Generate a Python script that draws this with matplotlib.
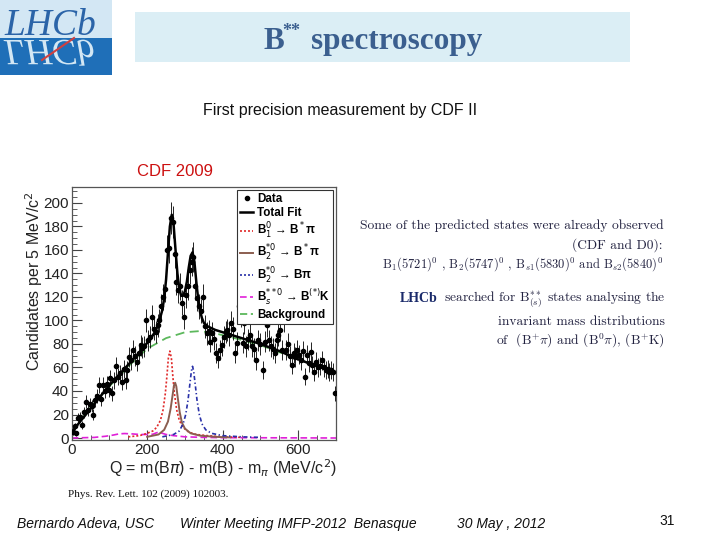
"""
B** spectroscopy slide - CDF 2009 Q-value spectrum
"""

import numpy as np
import matplotlib
matplotlib.use("Agg")
import matplotlib.pyplot as plt
from matplotlib.patches import Rectangle, PathPatch
from matplotlib.textpath import TextPath
from matplotlib.font_manager import FontProperties
from matplotlib.transforms import Affine2D

# --- data ---
BIN_WIDTH = 5
COUNTS = [
    5, 10, 4, 17, 18, 11, 22, 31, 24, 29,
    27, 20, 32, 36, 45, 33, 45, 40, 46, 41,
    51, 38, 49, 61, 52, 55, 48, 59, 49, 58,
    69, 66, 75, 70, 65, 72, 79, 77, 78, 100,
    83, 86, 103, 93, 90, 96, 100, 112, 120, 127,
    160, 162, 187, 184, 157, 133, 126, 129, 115, 103,
    122, 129, 143, 150, 154, 129, 119, 112, 108, 120,
    95, 89, 91, 82, 89, 84, 72, 68, 75, 79,
    86, 90, 92, 88, 98, 93, 72, 81, 112, 105,
    81, 98, 78, 84, 88, 78, 76, 66, 83, 80,
    113, 58, 82, 96, 83, 78, 76, 72, 83, 88,
    92, 75, 100, 75, 80, 70, 62, 72, 69, 75,
    71, 66, 74, 52, 71, 64, 73, 62, 56, 65,
    60, 61, 66, 60, 58, 59, 56, 58, 56, 38,
]

FIT_Q = [0, 20, 40, 60, 80, 100, 120, 140, 160, 180, 200, 210, 220, 230, 240,
         245, 250, 255, 260, 265, 270, 275, 280, 285, 290, 295, 300, 305, 310,
         315, 320, 325, 330, 335, 340, 345, 350, 360, 380, 400, 450, 500, 550,
         600, 650, 700]
FIT_Y = [5, 13, 21, 29, 37, 45, 52, 59, 66, 73, 81, 85, 90, 97, 109,
         119, 135, 158, 180, 190, 181, 160, 140, 127, 121, 121, 125, 133, 145,
         155, 158, 150, 133, 118, 108, 102, 98, 95, 92, 90, 85, 80, 74,
         67, 61, 56]

BKG_Q = [0, 50, 100, 150, 200, 250, 300, 340, 380, 420, 500, 600, 700]
BKG_Y = [5, 26, 44, 61, 76, 85, 90, 91, 89, 86, 79, 67, 55]

B1_Q = [150, 180, 200, 215, 225, 235, 242, 248, 252, 256, 260, 264, 268, 272,
        278, 285, 295, 310, 330, 360, 400, 450]
B1_Y = [1, 2, 4, 6, 9, 15, 24, 38, 52, 68, 74, 68, 52, 38,
        24, 15, 9, 5, 3, 2, 1, 0.5]

B2S_Q = [200, 230, 245, 255, 262, 267, 271, 274, 277, 281, 286, 292, 300, 315,
         340, 380, 420]
B2S_Y = [1, 3, 7, 14, 25, 36, 45, 47, 44, 34, 22, 13, 8, 4,
         2, 1, 0.5]

B2_Q = [240, 270, 285, 295, 302, 308, 313, 317, 320, 323, 327, 332, 338, 345,
        355, 370, 400, 450, 500]
B2_Y = [1, 3, 6, 12, 20, 32, 46, 57, 61, 57, 46, 32, 20, 12,
        7, 4, 2, 1, 0.5]

BS_Q = [0, 60, 90, 110, 125, 140, 160, 180, 200, 215, 225, 232, 240, 250,
        270, 300, 350, 400, 700]
BS_Y = [0, 0.5, 1.5, 2.5, 3.5, 3.8, 3.5, 3, 3, 3.2, 4.5, 5, 4, 3,
        2, 1, 0.5, 0.3, 0]

LEGEND_LABELS = ["Data", "Total Fit", "B$_1^0$ → B$^*$π", "B$_2^{*0}$ → B$^*$π",
                 "B$_2^{*0}$ → Bπ", "B$_s^{**0}$ → B$^{(*)}$K", "Background"]

SANS = "Liberation Sans"
SERIF = "Liberation Serif"
TEXT_DARK = "#222240"


def draw_slide(bg):
    # LHCb logo
    bg.add_patch(Rectangle((0, 0), 112, 38, facecolor="#d3e7f4", edgecolor="none"))
    bg.add_patch(Rectangle((0, 38), 112, 37, facecolor="#1f6fb8", edgecolor="none"))
    bg.text(4, 35, "LHCb", family=SERIF, style="italic", fontsize=27,
            color="#2b64a8", va="baseline", ha="left")
    tp = TextPath((0, 0), "LHCb", size=37,
                  prop=FontProperties(family=SERIF, style="italic"))
    # axes y is inverted, so the path comes out mirrored
    tp = tp.transformed(Affine2D().translate(4, 40))
    bg.add_patch(PathPatch(tp, facecolor="#d3e7f4", edgecolor="none"))
    bg.plot([42, 74], [60, 38], color="#d04040", lw=1.5)

    # title box
    bg.add_patch(Rectangle((135, 12), 495, 50, facecolor="#dbeef5", edgecolor="none"))
    tkw = dict(family=SERIF, weight="bold", color="#3b5f8f", ha="left",
               va="baseline")
    bg.text(263, 49, "B", fontsize=22.5, **tkw)
    bg.text(282, 36, "**", fontsize=13, **tkw)
    bg.text(311, 49, "spectroscopy", fontsize=22.5, **tkw)

    bg.text(340, 111, "First precision measurement by CDF II", family=SANS,
            fontsize=11.5, color="#111111", ha="center", va="center")
    bg.text(137, 172, "CDF 2009", family=SANS, fontsize=12, color="#cc1010",
            ha="left", va="center")

    # right-hand notes
    kw = dict(family="cmr10", fontsize=9.7, color=TEXT_DARK, va="center",
              math_fontfamily="cm")
    bg.text(360, 226, "Some of the predicted states were already observed",
            ha="left", **kw)
    bg.text(663, 245, "(CDF and D0):", ha="right", **kw)
    bg.text(663, 264, r"B$_1$(5721)$^0$ , B$_2$(5747)$^0$ , B$_{s1}$(5830)$^0$"
            r" and B$_{s2}$(5840)$^0$", ha="right",
            **{**kw, "fontsize": 9.0})
    bg.text(438, 299, "LHCb", family=SERIF, weight="bold", fontsize=10,
            color="#1a2a6a", ha="right", va="center")
    bg.text(665, 299, r"searched for B$^{**}_{(s)}$ states analysing the",
            ha="right", **kw)
    bg.text(665, 322, "invariant mass distributions", ha="right", **kw)
    bg.text(665, 341, r"of  (B$^{+}\pi$) and (B$^{0}\pi$), (B$^{+}$K)",
            ha="right", **kw)

    bg.text(68, 494, "Phys. Rev. Lett. 102 (2009) 102003.", family=SERIF,
            fontsize=8, color="#111111", ha="left", va="center")

    # footer
    fkw = dict(family=SANS, style="italic", fontsize=10, color="#111111",
               va="center", ha="left")
    bg.text(17, 524, "Bernardo Adeva, USC", **fkw)
    bg.text(180, 524, "Winter Meeting IMFP-2012  Benasque", **fkw)
    bg.text(457, 524, "30 May , 2012", **fkw)
    bg.text(667, 521, "31", family=SANS, fontsize=10, color="#111111",
            ha="center", va="center")


def draw_spectrum(ax):
    counts = np.array(COUNTS, dtype=float)
    q = np.arange(len(counts)) * BIN_WIDTH + BIN_WIDTH / 2
    err = np.sqrt(counts)

    ax.plot(BKG_Q, BKG_Y, color="#5cb85c", lw=1.3, ls=(0, (5, 3)), zorder=2)
    ax.plot(BS_Q, BS_Y, color="#e020d8", lw=1.2, ls=(0, (4, 2)), zorder=2)
    ax.plot(B1_Q, B1_Y, color="#e02828", lw=1.2, ls=(0, (1.2, 1.2)), zorder=2)
    ax.plot(B2S_Q, B2S_Y, color="#8b5e50", lw=1.4, ls="-", zorder=2)
    ax.plot(B2_Q, B2_Y, color="#2830a8", lw=1.2, ls=(0, (2.5, 1.5, 0.8, 1.5)), zorder=2)
    ax.errorbar(q, counts, yerr=err, fmt="o", ms=3.0, color="black",
                elinewidth=0.6, capsize=0, zorder=3)
    ax.plot(FIT_Q, FIT_Y, color="black", lw=1.8, zorder=4)

    ax.set_xlim(0, 700)
    ax.set_ylim(-1.7, 213.6)
    ax.set_xticks([0, 200, 400, 600])
    ax.set_xticks(np.arange(0, 701, 50), minor=True)
    ax.set_yticks(np.arange(0, 201, 20))
    ax.set_yticks(np.arange(0, 211, 5), minor=True)
    ax.tick_params(which="both", direction="in", labelsize=11,
                   labelcolor="#222222", color="#444444")
    ax.tick_params(which="major", length=7, width=0.8)
    ax.tick_params(which="minor", length=3.5, width=0.6)
    ax.tick_params(axis="x", pad=2)
    ax.tick_params(axis="y", pad=2)
    for lab in ax.get_xticklabels() + ax.get_yticklabels():
        lab.set_family(SANS)
    for sp in ax.spines.values():
        sp.set_color("#555555")
        sp.set_linewidth(0.9)

    # legend proxies
    h = [
        plt.Line2D([], [], marker="o", ms=3.0, color="black", ls="none"),
        plt.Line2D([], [], color="black", lw=1.8),
        plt.Line2D([], [], color="#e02828", lw=1.2, ls=(0, (1.2, 1.2))),
        plt.Line2D([], [], color="#8b5e50", lw=1.4),
        plt.Line2D([], [], color="#2830a8", lw=1.2, ls=(0, (1.2, 1.2))),
        plt.Line2D([], [], color="#e020d8", lw=1.2, ls=(0, (4, 2))),
        plt.Line2D([], [], color="#5cb85c", lw=1.3, ls=(0, (4, 2))),
    ]
    leg = ax.legend(h, LEGEND_LABELS, loc="upper right", frameon=True,
                    fancybox=False, edgecolor="#333333", framealpha=1,
                    prop=FontProperties(family=SANS, weight="bold", size=8.4),
                    handlelength=1.1, handletextpad=0.35, labelspacing=0.18,
                    borderpad=0.25, borderaxespad=0.25)
    leg.get_frame().set_linewidth(0.8)


def main():
    fig = plt.figure(figsize=(7.2, 5.4), dpi=100)
    bg = fig.add_axes([0, 0, 1, 1])
    bg.set_xlim(0, 720)
    bg.set_ylim(540, 0)
    bg.axis("off")
    draw_slide(bg)

    ax = fig.add_axes([71.7 / 720, 100 / 540, 264.3 / 720, 253 / 540])
    draw_spectrum(ax)

    fig.text(337 / 720, (540 - 468) / 540,
             r"Q = m(B$\pi$) - m(B) - m$_{\pi}$ (MeV/c$^2$)",
             family=SANS, fontsize=11.5, color="#222222", ha="right",
             va="center", math_fontfamily="dejavusans")
    fig.text(34 / 720, (540 - 281) / 540, "Candidates per 5 MeV/c$^2$",
             family=SANS, fontsize=11.5, color="#222222", rotation=90,
             ha="center", va="center")

    fig.savefig("out.png", dpi=100)
    plt.close(fig)


if __name__ == "__main__":
    main()
